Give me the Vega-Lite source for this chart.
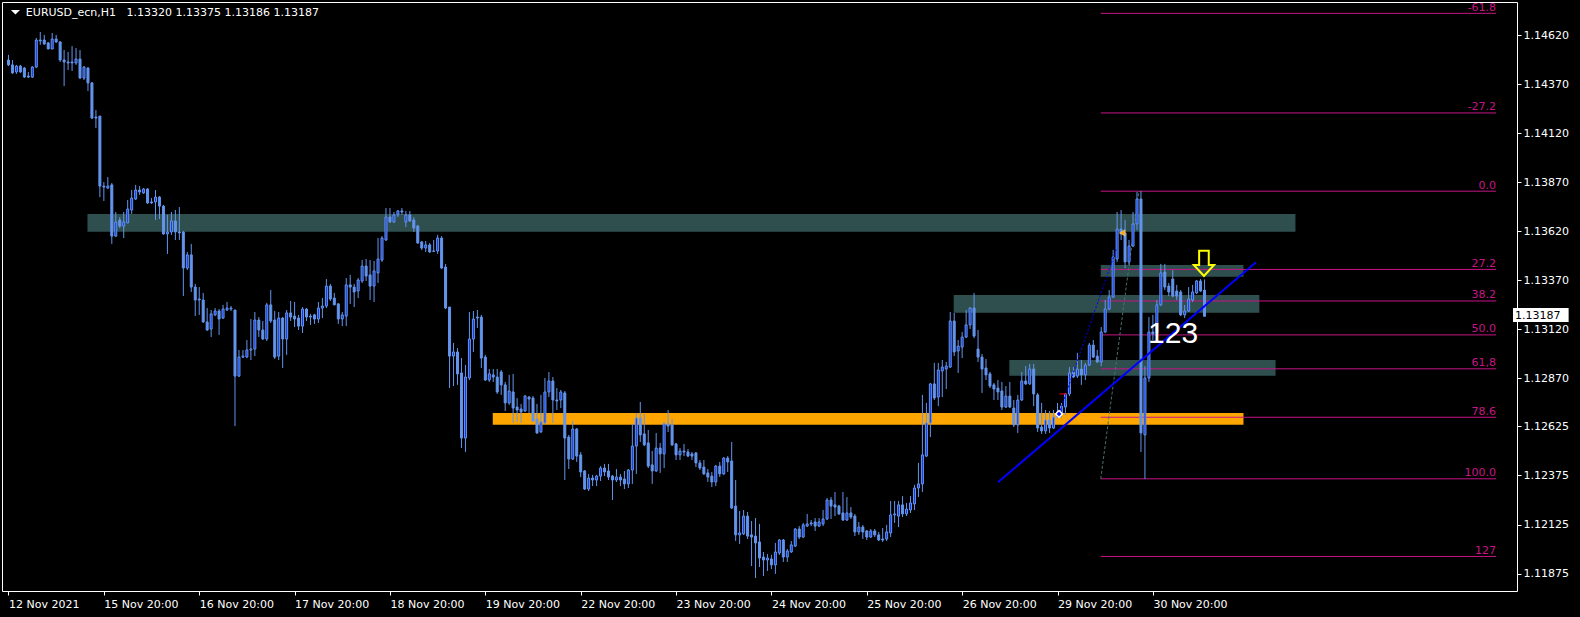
{
"$schema":"https://vega.github.io/schema/vega-lite/v6.json",
"width":1515,"height":589,
"autosize":{"type":"none"},
"padding":{"left":2,"top":2,"right":63,"bottom":26},
"background":"#000000",
"config":{"view":{"stroke":"#ffffff","strokeWidth":1,"fill":"#000000"},"axis":{"grid":false}},
"datasets":{
"candles":[
{"i":0,"o":1.14494,"h":1.1452,"l":1.14463,"c":1.14469},
{"i":1,"o":1.14469,"h":1.14494,"l":1.14423,"c":1.14428},
{"i":2,"o":1.14433,"h":1.14469,"l":1.14423,"c":1.14463},
{"i":3,"o":1.14463,"h":1.14469,"l":1.14428,"c":1.14433},
{"i":4,"o":1.14453,"h":1.14458,"l":1.14402,"c":1.14407},
{"i":5,"o":1.14412,"h":1.14433,"l":1.14402,"c":1.14407},
{"i":6,"o":1.14407,"h":1.14463,"l":1.14402,"c":1.14458},
{"i":7,"o":1.14458,"h":1.14606,"l":1.14453,"c":1.14596},
{"i":8,"o":1.14596,"h":1.14637,"l":1.14571,"c":1.14591},
{"i":9,"o":1.14596,"h":1.14622,"l":1.14571,"c":1.14576},
{"i":10,"o":1.14581,"h":1.14586,"l":1.1455,"c":1.1455},
{"i":11,"o":1.1455,"h":1.14632,"l":1.1455,"c":1.14601},
{"i":12,"o":1.14601,"h":1.14622,"l":1.14581,"c":1.14586},
{"i":13,"o":1.14586,"h":1.14591,"l":1.14484,"c":1.14494},
{"i":14,"o":1.14494,"h":1.14545,"l":1.14361,"c":1.14484},
{"i":15,"o":1.14484,"h":1.14535,"l":1.14443,"c":1.14479},
{"i":16,"o":1.14484,"h":1.14565,"l":1.14438,"c":1.14479},
{"i":17,"o":1.14479,"h":1.14555,"l":1.14469,"c":1.14499},
{"i":18,"o":1.14499,"h":1.14545,"l":1.14397,"c":1.14402},
{"i":19,"o":1.14402,"h":1.14463,"l":1.14392,"c":1.14458},
{"i":20,"o":1.14453,"h":1.14458,"l":1.14336,"c":1.14377},
{"i":21,"o":1.14377,"h":1.14382,"l":1.14193,"c":1.14198},
{"i":22,"o":1.14203,"h":1.14239,"l":1.14147,"c":1.14198},
{"i":23,"o":1.14208,"h":1.14208,"l":1.13795,"c":1.13851},
{"i":24,"o":1.13851,"h":1.13872,"l":1.13775,"c":1.13846},
{"i":25,"o":1.13841,"h":1.13897,"l":1.13836,"c":1.13851},
{"i":26,"o":1.13857,"h":1.13867,"l":1.13556,"c":1.13596},
{"i":27,"o":1.13596,"h":1.13719,"l":1.13591,"c":1.13668},
{"i":28,"o":1.13678,"h":1.13693,"l":1.13637,"c":1.13647},
{"i":29,"o":1.13647,"h":1.13719,"l":1.13586,"c":1.13668},
{"i":30,"o":1.13663,"h":1.1378,"l":1.13663,"c":1.13734},
{"i":31,"o":1.13729,"h":1.13831,"l":1.13709,"c":1.1379},
{"i":32,"o":1.13785,"h":1.13857,"l":1.1378,"c":1.13831},
{"i":33,"o":1.13831,"h":1.13851,"l":1.13806,"c":1.13821},
{"i":34,"o":1.13816,"h":1.13841,"l":1.13811,"c":1.13836},
{"i":35,"o":1.13836,"h":1.13841,"l":1.1376,"c":1.13765},
{"i":36,"o":1.1377,"h":1.1379,"l":1.1376,"c":1.13765},
{"i":37,"o":1.1377,"h":1.13831,"l":1.13678,"c":1.13795},
{"i":38,"o":1.13795,"h":1.138,"l":1.13683,"c":1.13749},
{"i":39,"o":1.13749,"h":1.13755,"l":1.13602,"c":1.13607},
{"i":40,"o":1.13607,"h":1.13704,"l":1.13505,"c":1.13617},
{"i":41,"o":1.13617,"h":1.13719,"l":1.13602,"c":1.13673},
{"i":42,"o":1.13673,"h":1.13729,"l":1.13576,"c":1.13617},
{"i":43,"o":1.13617,"h":1.13744,"l":1.13576,"c":1.13612},
{"i":44,"o":1.13617,"h":1.13622,"l":1.1329,"c":1.13433},
{"i":45,"o":1.13433,"h":1.13515,"l":1.13423,"c":1.135},
{"i":46,"o":1.135,"h":1.13556,"l":1.13311,"c":1.13336},
{"i":47,"o":1.13336,"h":1.13352,"l":1.13188,"c":1.1327},
{"i":48,"o":1.13275,"h":1.13336,"l":1.13194,"c":1.1327},
{"i":49,"o":1.1327,"h":1.13306,"l":1.13153,"c":1.13158},
{"i":50,"o":1.13158,"h":1.13229,"l":1.13112,"c":1.13117},
{"i":51,"o":1.13122,"h":1.13219,"l":1.13081,"c":1.13199},
{"i":52,"o":1.13194,"h":1.13229,"l":1.13188,"c":1.13214},
{"i":53,"o":1.13214,"h":1.13224,"l":1.13092,"c":1.13173},
{"i":54,"o":1.13178,"h":1.13245,"l":1.13173,"c":1.13224},
{"i":55,"o":1.13219,"h":1.1326,"l":1.13214,"c":1.13229},
{"i":56,"o":1.13224,"h":1.13239,"l":1.13214,"c":1.13229},
{"i":57,"o":1.13219,"h":1.13219,"l":1.12627,"c":1.12882},
{"i":58,"o":1.12882,"h":1.13015,"l":1.12877,"c":1.12979},
{"i":59,"o":1.12979,"h":1.13015,"l":1.12974,"c":1.12984},
{"i":60,"o":1.12979,"h":1.13066,"l":1.12974,"c":1.13015},
{"i":61,"o":1.13015,"h":1.13173,"l":1.12964,"c":1.1302},
{"i":62,"o":1.1302,"h":1.13209,"l":1.12984,"c":1.13168},
{"i":63,"o":1.13168,"h":1.13183,"l":1.13081,"c":1.13117},
{"i":64,"o":1.13117,"h":1.13163,"l":1.13066,"c":1.13071},
{"i":65,"o":1.13071,"h":1.13255,"l":1.13061,"c":1.13245},
{"i":66,"o":1.13245,"h":1.13321,"l":1.13153,"c":1.13163},
{"i":67,"o":1.13168,"h":1.13214,"l":1.12969,"c":1.12979},
{"i":68,"o":1.12984,"h":1.13209,"l":1.12964,"c":1.13178},
{"i":69,"o":1.13178,"h":1.13183,"l":1.12923,"c":1.13071},
{"i":70,"o":1.13071,"h":1.13219,"l":1.1299,"c":1.13204},
{"i":71,"o":1.13204,"h":1.13265,"l":1.13163,"c":1.13183},
{"i":72,"o":1.13188,"h":1.1326,"l":1.13132,"c":1.13173},
{"i":73,"o":1.13178,"h":1.13194,"l":1.13117,"c":1.13137},
{"i":74,"o":1.13137,"h":1.13234,"l":1.13102,"c":1.13224},
{"i":75,"o":1.13224,"h":1.13229,"l":1.13163,"c":1.13183},
{"i":76,"o":1.13188,"h":1.13199,"l":1.13143,"c":1.13183},
{"i":77,"o":1.13194,"h":1.13199,"l":1.13148,"c":1.13173},
{"i":78,"o":1.13173,"h":1.1326,"l":1.13153,"c":1.13229},
{"i":79,"o":1.13229,"h":1.1328,"l":1.13178,"c":1.13239},
{"i":80,"o":1.13239,"h":1.13377,"l":1.13229,"c":1.13341},
{"i":81,"o":1.13341,"h":1.13352,"l":1.13265,"c":1.13275},
{"i":82,"o":1.1328,"h":1.13306,"l":1.13245,"c":1.13245},
{"i":83,"o":1.1325,"h":1.13255,"l":1.13148,"c":1.13173},
{"i":84,"o":1.13173,"h":1.13209,"l":1.13137,"c":1.13194},
{"i":85,"o":1.13188,"h":1.13382,"l":1.13137,"c":1.13347},
{"i":86,"o":1.13347,"h":1.13398,"l":1.1325,"c":1.13336},
{"i":87,"o":1.13336,"h":1.13352,"l":1.13234,"c":1.13311},
{"i":88,"o":1.13316,"h":1.13382,"l":1.1328,"c":1.13372},
{"i":89,"o":1.13367,"h":1.13474,"l":1.13357,"c":1.13443},
{"i":90,"o":1.13443,"h":1.13479,"l":1.13367,"c":1.13392},
{"i":91,"o":1.13398,"h":1.13474,"l":1.1327,"c":1.13341},
{"i":92,"o":1.13341,"h":1.13469,"l":1.1326,"c":1.13418},
{"i":93,"o":1.13408,"h":1.13586,"l":1.13357,"c":1.13479},
{"i":94,"o":1.13474,"h":1.13596,"l":1.13464,"c":1.13586},
{"i":95,"o":1.13576,"h":1.13739,"l":1.13571,"c":1.13693},
{"i":96,"o":1.13693,"h":1.13739,"l":1.13663,"c":1.13668},
{"i":97,"o":1.13668,"h":1.13719,"l":1.13663,"c":1.13704},
{"i":98,"o":1.13704,"h":1.13729,"l":1.13693,"c":1.13724},
{"i":99,"o":1.13724,"h":1.13739,"l":1.13704,"c":1.13719},
{"i":100,"o":1.13668,"h":1.13724,"l":1.13642,"c":1.13704},
{"i":101,"o":1.13704,"h":1.13724,"l":1.13668,"c":1.13673},
{"i":102,"o":1.13678,"h":1.13693,"l":1.13617,"c":1.13637},
{"i":103,"o":1.13647,"h":1.13653,"l":1.13556,"c":1.13561},
{"i":104,"o":1.13566,"h":1.13571,"l":1.13525,"c":1.13535},
{"i":105,"o":1.13535,"h":1.13571,"l":1.13515,"c":1.13551},
{"i":106,"o":1.13551,"h":1.13561,"l":1.1351,"c":1.13515},
{"i":107,"o":1.1352,"h":1.13576,"l":1.13515,"c":1.13518},
{"i":108,"o":1.1352,"h":1.13602,"l":1.13505,"c":1.13586},
{"i":109,"o":1.13586,"h":1.13596,"l":1.13428,"c":1.13433},
{"i":110,"o":1.13438,"h":1.13454,"l":1.13224,"c":1.13229},
{"i":111,"o":1.13234,"h":1.13234,"l":1.12821,"c":1.12984},
{"i":112,"o":1.12984,"h":1.13051,"l":1.12831,"c":1.13005},
{"i":113,"o":1.13005,"h":1.13025,"l":1.12837,"c":1.12893},
{"i":114,"o":1.12898,"h":1.12974,"l":1.12515,"c":1.12566},
{"i":115,"o":1.12566,"h":1.12939,"l":1.12495,"c":1.12877},
{"i":116,"o":1.12872,"h":1.13209,"l":1.12862,"c":1.13071},
{"i":117,"o":1.13071,"h":1.13214,"l":1.13005,"c":1.13173},
{"i":118,"o":1.13183,"h":1.13219,"l":1.13127,"c":1.13178},
{"i":119,"o":1.13183,"h":1.13194,"l":1.12923,"c":1.12974},
{"i":120,"o":1.12979,"h":1.1299,"l":1.12857,"c":1.12862},
{"i":121,"o":1.12862,"h":1.12918,"l":1.12852,"c":1.12893},
{"i":122,"o":1.12888,"h":1.12918,"l":1.12852,"c":1.12877},
{"i":123,"o":1.12877,"h":1.12918,"l":1.12791,"c":1.12801},
{"i":124,"o":1.12903,"h":1.12913,"l":1.12786,"c":1.12837},
{"i":125,"o":1.12837,"h":1.12852,"l":1.12704,"c":1.12745},
{"i":126,"o":1.12745,"h":1.12888,"l":1.12735,"c":1.12806},
{"i":127,"o":1.12801,"h":1.12893,"l":1.12643,"c":1.12719},
{"i":128,"o":1.12724,"h":1.1277,"l":1.12648,"c":1.12709},
{"i":129,"o":1.12714,"h":1.1274,"l":1.12643,"c":1.12699},
{"i":130,"o":1.12704,"h":1.12786,"l":1.12699,"c":1.1278},
{"i":131,"o":1.12775,"h":1.1278,"l":1.12694,"c":1.12765},
{"i":132,"o":1.1277,"h":1.1278,"l":1.12648,"c":1.12653},
{"i":133,"o":1.12663,"h":1.1274,"l":1.12587,"c":1.12592},
{"i":134,"o":1.12597,"h":1.12786,"l":1.12592,"c":1.12648},
{"i":135,"o":1.12643,"h":1.12872,"l":1.12638,"c":1.12801},
{"i":136,"o":1.12801,"h":1.12903,"l":1.12775,"c":1.12857},
{"i":137,"o":1.12857,"h":1.12877,"l":1.12643,"c":1.1276},
{"i":138,"o":1.1276,"h":1.12821,"l":1.12709,"c":1.12755},
{"i":139,"o":1.1276,"h":1.12811,"l":1.12719,"c":1.12801},
{"i":140,"o":1.12796,"h":1.12806,"l":1.12352,"c":1.12566},
{"i":141,"o":1.12571,"h":1.12582,"l":1.12408,"c":1.12459},
{"i":142,"o":1.12459,"h":1.12653,"l":1.12454,"c":1.12612},
{"i":143,"o":1.12612,"h":1.12617,"l":1.12444,"c":1.12474},
{"i":144,"o":1.1248,"h":1.12495,"l":1.12367,"c":1.12393},
{"i":145,"o":1.12398,"h":1.12403,"l":1.12301,"c":1.12306},
{"i":146,"o":1.12306,"h":1.12383,"l":1.12296,"c":1.12362},
{"i":147,"o":1.12362,"h":1.12378,"l":1.12321,"c":1.12352},
{"i":148,"o":1.12352,"h":1.12378,"l":1.12321,"c":1.12372},
{"i":149,"o":1.12372,"h":1.12423,"l":1.12347,"c":1.12413},
{"i":150,"o":1.12413,"h":1.12434,"l":1.12372,"c":1.12393},
{"i":151,"o":1.12398,"h":1.12434,"l":1.12352,"c":1.12367},
{"i":152,"o":1.12372,"h":1.12378,"l":1.1225,"c":1.12352},
{"i":153,"o":1.12352,"h":1.12408,"l":1.12342,"c":1.12367},
{"i":154,"o":1.12367,"h":1.12383,"l":1.12321,"c":1.12352},
{"i":155,"o":1.12357,"h":1.12398,"l":1.12306,"c":1.12332},
{"i":156,"o":1.12332,"h":1.12408,"l":1.12311,"c":1.12403},
{"i":157,"o":1.12403,"h":1.12638,"l":1.12332,"c":1.12525},
{"i":158,"o":1.12525,"h":1.12694,"l":1.12383,"c":1.12668},
{"i":159,"o":1.12668,"h":1.1275,"l":1.12546,"c":1.12582},
{"i":160,"o":1.12587,"h":1.12689,"l":1.12525,"c":1.12531},
{"i":161,"o":1.12541,"h":1.12607,"l":1.12413,"c":1.12423},
{"i":162,"o":1.12429,"h":1.125,"l":1.12332,"c":1.12398},
{"i":163,"o":1.12398,"h":1.12592,"l":1.12393,"c":1.12515},
{"i":164,"o":1.12515,"h":1.12541,"l":1.12388,"c":1.12485},
{"i":165,"o":1.12485,"h":1.12648,"l":1.12413,"c":1.12638},
{"i":166,"o":1.12638,"h":1.12709,"l":1.12597,"c":1.12627},
{"i":167,"o":1.12633,"h":1.12663,"l":1.12525,"c":1.12531},
{"i":168,"o":1.12536,"h":1.12541,"l":1.12454,"c":1.1248},
{"i":169,"o":1.1248,"h":1.12515,"l":1.12454,"c":1.125},
{"i":170,"o":1.125,"h":1.12536,"l":1.12474,"c":1.12495},
{"i":171,"o":1.12495,"h":1.1251,"l":1.12469,"c":1.12474},
{"i":172,"o":1.12485,"h":1.12495,"l":1.12454,"c":1.12474},
{"i":173,"o":1.1249,"h":1.12495,"l":1.12418,"c":1.12439},
{"i":174,"o":1.12439,"h":1.12454,"l":1.12403,"c":1.12413},
{"i":175,"o":1.12418,"h":1.12454,"l":1.12378,"c":1.12383},
{"i":176,"o":1.12388,"h":1.12408,"l":1.12342,"c":1.12367},
{"i":177,"o":1.12372,"h":1.12393,"l":1.12316,"c":1.12342},
{"i":178,"o":1.12342,"h":1.12429,"l":1.12321,"c":1.12423},
{"i":179,"o":1.12423,"h":1.12444,"l":1.12367,"c":1.12383},
{"i":180,"o":1.12383,"h":1.12469,"l":1.12378,"c":1.12464},
{"i":181,"o":1.12464,"h":1.12474,"l":1.12393,"c":1.12444},
{"i":182,"o":1.12449,"h":1.12546,"l":1.12204,"c":1.12209},
{"i":183,"o":1.12219,"h":1.12352,"l":1.12041,"c":1.12072},
{"i":184,"o":1.12072,"h":1.12194,"l":1.12026,"c":1.12082},
{"i":185,"o":1.12077,"h":1.12199,"l":1.12072,"c":1.12168},
{"i":186,"o":1.12168,"h":1.12189,"l":1.12051,"c":1.12066},
{"i":187,"o":1.12072,"h":1.12143,"l":1.11913,"c":1.12061},
{"i":188,"o":1.12066,"h":1.12158,"l":1.11852,"c":1.12031},
{"i":189,"o":1.12036,"h":1.12128,"l":1.11908,"c":1.11954},
{"i":190,"o":1.11959,"h":1.11985,"l":1.11862,"c":1.11944},
{"i":191,"o":1.11944,"h":1.11975,"l":1.11888,"c":1.11954},
{"i":192,"o":1.11949,"h":1.1197,"l":1.11898,"c":1.11919},
{"i":193,"o":1.11919,"h":1.12031,"l":1.11873,"c":1.11985},
{"i":194,"o":1.1198,"h":1.12051,"l":1.1197,"c":1.12046},
{"i":195,"o":1.12046,"h":1.12051,"l":1.11934,"c":1.11959},
{"i":196,"o":1.11959,"h":1.12,"l":1.11934,"c":1.1199},
{"i":197,"o":1.11985,"h":1.12041,"l":1.1198,"c":1.12021},
{"i":198,"o":1.12015,"h":1.12107,"l":1.1201,"c":1.12102},
{"i":199,"o":1.12102,"h":1.12117,"l":1.12051,"c":1.12061},
{"i":200,"o":1.12061,"h":1.12133,"l":1.12056,"c":1.12123},
{"i":201,"o":1.12117,"h":1.12179,"l":1.12112,"c":1.12128},
{"i":202,"o":1.12133,"h":1.12148,"l":1.12117,"c":1.12128},
{"i":203,"o":1.12138,"h":1.12158,"l":1.12092,"c":1.12117},
{"i":204,"o":1.12117,"h":1.12158,"l":1.12112,"c":1.12138},
{"i":205,"o":1.12128,"h":1.12199,"l":1.12117,"c":1.12153},
{"i":206,"o":1.12153,"h":1.1226,"l":1.12148,"c":1.1225},
{"i":207,"o":1.1225,"h":1.12265,"l":1.12153,"c":1.12219},
{"i":208,"o":1.12225,"h":1.12291,"l":1.12168,"c":1.12214},
{"i":209,"o":1.12219,"h":1.12225,"l":1.12174,"c":1.12179},
{"i":210,"o":1.12184,"h":1.12291,"l":1.12143,"c":1.12148},
{"i":211,"o":1.12148,"h":1.12265,"l":1.12143,"c":1.12184},
{"i":212,"o":1.12184,"h":1.12214,"l":1.12153,"c":1.12163},
{"i":213,"o":1.12168,"h":1.12179,"l":1.12066,"c":1.12087},
{"i":214,"o":1.12087,"h":1.12138,"l":1.12072,"c":1.12112},
{"i":215,"o":1.12112,"h":1.12123,"l":1.12051,"c":1.12087},
{"i":216,"o":1.12092,"h":1.12097,"l":1.12046,"c":1.12061},
{"i":217,"o":1.12061,"h":1.12102,"l":1.12056,"c":1.12092},
{"i":218,"o":1.12092,"h":1.12102,"l":1.12061,"c":1.12072},
{"i":219,"o":1.12072,"h":1.12087,"l":1.12041,"c":1.12046},
{"i":220,"o":1.12051,"h":1.12107,"l":1.12036,"c":1.12046},
{"i":221,"o":1.12051,"h":1.12123,"l":1.12041,"c":1.12087},
{"i":222,"o":1.12082,"h":1.12245,"l":1.12061,"c":1.12174},
{"i":223,"o":1.12174,"h":1.12245,"l":1.12133,"c":1.12179},
{"i":224,"o":1.12168,"h":1.12245,"l":1.12112,"c":1.12225},
{"i":225,"o":1.12225,"h":1.1227,"l":1.12163,"c":1.12179},
{"i":226,"o":1.12179,"h":1.12235,"l":1.12168,"c":1.12204},
{"i":227,"o":1.12199,"h":1.1227,"l":1.12184,"c":1.12235},
{"i":228,"o":1.1223,"h":1.12327,"l":1.12199,"c":1.12311},
{"i":229,"o":1.12311,"h":1.12439,"l":1.12265,"c":1.12332},
{"i":230,"o":1.12332,"h":1.12786,"l":1.12291,"c":1.1248},
{"i":231,"o":1.12474,"h":1.12745,"l":1.12469,"c":1.12643},
{"i":232,"o":1.12643,"h":1.12847,"l":1.12571,"c":1.12842},
{"i":233,"o":1.12842,"h":1.12949,"l":1.1276,"c":1.1277},
{"i":234,"o":1.12775,"h":1.12949,"l":1.12729,"c":1.12913},
{"i":235,"o":1.12908,"h":1.12964,"l":1.12775,"c":1.12928},
{"i":236,"o":1.12918,"h":1.12954,"l":1.12816,"c":1.12933},
{"i":237,"o":1.12928,"h":1.13209,"l":1.12923,"c":1.13163},
{"i":238,"o":1.13163,"h":1.13204,"l":1.12984,"c":1.13005},
{"i":239,"o":1.1301,"h":1.13066,"l":1.12898,"c":1.13035},
{"i":240,"o":1.1303,"h":1.13107,"l":1.12974,"c":1.13081},
{"i":241,"o":1.13081,"h":1.13219,"l":1.13076,"c":1.13143},
{"i":242,"o":1.13143,"h":1.13234,"l":1.13122,"c":1.13229},
{"i":243,"o":1.13229,"h":1.13306,"l":1.13076,"c":1.13086},
{"i":244,"o":1.1302,"h":1.13117,"l":1.12954,"c":1.12979},
{"i":245,"o":1.12979,"h":1.12995,"l":1.12796,"c":1.12918},
{"i":246,"o":1.12923,"h":1.12969,"l":1.12862,"c":1.12888},
{"i":247,"o":1.12893,"h":1.12903,"l":1.12821,"c":1.12831},
{"i":248,"o":1.12837,"h":1.12847,"l":1.1276,"c":1.12816},
{"i":249,"o":1.12821,"h":1.12862,"l":1.1276,"c":1.12801},
{"i":250,"o":1.12806,"h":1.12852,"l":1.12709,"c":1.12724},
{"i":251,"o":1.12724,"h":1.12831,"l":1.12719,"c":1.1278},
{"i":252,"o":1.1278,"h":1.12852,"l":1.12719,"c":1.12724},
{"i":253,"o":1.12719,"h":1.1276,"l":1.12622,"c":1.12633},
{"i":254,"o":1.12633,"h":1.12786,"l":1.12592,"c":1.1276},
{"i":255,"o":1.1276,"h":1.12903,"l":1.12755,"c":1.12857},
{"i":256,"o":1.12857,"h":1.12933,"l":1.12837,"c":1.12842},
{"i":257,"o":1.12842,"h":1.12944,"l":1.12837,"c":1.12918},
{"i":258,"o":1.12918,"h":1.12944,"l":1.12729,"c":1.12791},
{"i":259,"o":1.12786,"h":1.12796,"l":1.12597,"c":1.12617},
{"i":260,"o":1.12622,"h":1.12745,"l":1.12587,"c":1.12602},
{"i":261,"o":1.12602,"h":1.12709,"l":1.12587,"c":1.12658},
{"i":262,"o":1.12658,"h":1.12704,"l":1.12592,"c":1.12617},
{"i":263,"o":1.12617,"h":1.12709,"l":1.12612,"c":1.12673},
{"i":264,"o":1.12673,"h":1.12745,"l":1.12668,"c":1.12699},
{"i":265,"o":1.12694,"h":1.12745,"l":1.12668,"c":1.12729},
{"i":266,"o":1.12724,"h":1.12796,"l":1.12683,"c":1.12791},
{"i":267,"o":1.12791,"h":1.12928,"l":1.1278,"c":1.12898},
{"i":268,"o":1.12903,"h":1.12928,"l":1.12872,"c":1.12877},
{"i":269,"o":1.12882,"h":1.13,"l":1.12872,"c":1.12918},
{"i":270,"o":1.12918,"h":1.12964,"l":1.12837,"c":1.12888},
{"i":271,"o":1.12888,"h":1.12949,"l":1.12862,"c":1.12938},
{"i":272,"o":1.12938,"h":1.13051,"l":1.12933,"c":1.1304},
{"i":273,"o":1.1304,"h":1.13066,"l":1.12974,"c":1.12979},
{"i":274,"o":1.12984,"h":1.13015,"l":1.12949,"c":1.12954},
{"i":275,"o":1.12954,"h":1.13132,"l":1.12933,"c":1.13107},
{"i":276,"o":1.13107,"h":1.1327,"l":1.13102,"c":1.13224},
{"i":277,"o":1.13224,"h":1.13321,"l":1.13219,"c":1.13285},
{"i":278,"o":1.13285,"h":1.13525,"l":1.1328,"c":1.13489},
{"i":279,"o":1.13479,"h":1.13719,"l":1.13464,"c":1.13632},
{"i":280,"o":1.13632,"h":1.13729,"l":1.13576,"c":1.13607},
{"i":281,"o":1.13612,"h":1.13678,"l":1.13433,"c":1.13464},
{"i":282,"o":1.13464,"h":1.13576,"l":1.13449,"c":1.13545},
{"i":283,"o":1.13545,"h":1.13719,"l":1.1354,"c":1.13658},
{"i":284,"o":1.13658,"h":1.13821,"l":1.13627,"c":1.13785},
{"i":285,"o":1.13785,"h":1.13826,"l":1.12495,"c":1.12592},
{"i":286,"o":1.12582,"h":1.12933,"l":1.12357,"c":1.12872},
{"i":287,"o":1.12872,"h":1.13183,"l":1.12852,"c":1.13107},
{"i":288,"o":1.13107,"h":1.13194,"l":1.13066,"c":1.13097},
{"i":289,"o":1.13102,"h":1.1327,"l":1.13086,"c":1.13245},
{"i":290,"o":1.13245,"h":1.13454,"l":1.13239,"c":1.13408},
{"i":291,"o":1.13413,"h":1.13454,"l":1.13321,"c":1.13336},
{"i":292,"o":1.13341,"h":1.13357,"l":1.1329,"c":1.13311},
{"i":293,"o":1.13377,"h":1.13423,"l":1.13285,"c":1.1329},
{"i":294,"o":1.13316,"h":1.13347,"l":1.1327,"c":1.1329},
{"i":295,"o":1.13311,"h":1.13321,"l":1.13188,"c":1.13194},
{"i":296,"o":1.13194,"h":1.13245,"l":1.13178,"c":1.13214},
{"i":297,"o":1.13214,"h":1.13336,"l":1.13209,"c":1.13275},
{"i":298,"o":1.1327,"h":1.13347,"l":1.1326,"c":1.13311},
{"i":299,"o":1.13306,"h":1.13372,"l":1.13301,"c":1.13367},
{"i":300,"o":1.13367,"h":1.13377,"l":1.13311,"c":1.13316},
{"i":301,"o":1.1332,"h":1.13375,"l":1.13186,"c":1.13187}
],
"zones":[
{"i1":19.875,"i2":323.875,"p1":1.13709,"p2":1.13618,"kind":"zone"},
{"i1":121.875,"i2":310.8,"p1":1.12694,"p2":1.12634,"kind":"support"},
{"i1":237.875,"i2":314.8,"p1":1.13296,"p2":1.13205,"kind":"zone"},
{"i1":251.875,"i2":318.875,"p1":1.12964,"p2":1.12884,"kind":"zone"},
{"i1":274.875,"i2":310.8,"p1":1.13449,"p2":1.13389,"kind":"zone"}
],
"fib":[
{"lv":"-61.8","p":1.14732},
{"lv":"-27.2","p":1.14224},
{"lv":"0.0","p":1.13825},
{"lv":"27.2","p":1.13426},
{"lv":"38.2","p":1.13265},
{"lv":"50.0","p":1.13092},
{"lv":"61,8","p":1.12919},
{"lv":"78.6","p":1.12672},
{"lv":"100.0","p":1.12358},
{"lv":"127","p":1.11962}
],
"fibdiag":[{"i":274.875,"p":1.12358},{"i":284.5,"p":1.13826}],
"trend":[{"i":249.0,"p":1.1234},{"i":313.95,"p":1.13462}],
"zig":[{"i":264.375,"p":1.12689},{"i":278.875,"p":1.13535}],
"one":[{"k":1}]
},
"layer":[
{"data":{"name":"zones"},
 "mark":{"type":"rect"},
 "encoding":{
  "x":{"field":"i1","type":"quantitative","scale":{"domain":[-0.375,378.375],"nice":false,"zero":false},
   "axis":{"values":[0,24,48,72,96,120,144,168,192,216,240,264,288],
    "labelExpr":"['12 Nov 2021','15 Nov 20:00','16 Nov 20:00','17 Nov 20:00','18 Nov 20:00','19 Nov 20:00','22 Nov 20:00','23 Nov 20:00','24 Nov 20:00','25 Nov 20:00','26 Nov 20:00','29 Nov 20:00','30 Nov 20:00'][round(datum.value/24)]",
    "labelAlign":"left","labelDx":-2,"labelColor":"#ffffff","labelFont":"DejaVu Sans","labelFontSize":11,
    "tickColor":"#ffffff","tickSize":4,"domain":false,"grid":false,"labelPadding":3,"labelFlush":false,
    "labelOverlap":false,"labelBound":false,"title":null,"labelBaseline":"top"}},
  "x2":{"field":"i2"},
  "y":{"field":"p1","type":"quantitative","scale":{"domain":[1.117859,1.147898],"nice":false,"zero":false},
   "axis":{"orient":"right","values":[1.1462,1.1437,1.1412,1.1387,1.1362,1.1337,1.1312,1.1287,1.12625,1.12375,1.12125,1.11875],
    "format":".5f","labelColor":"#ffffff","labelFont":"DejaVu Sans","labelFontSize":11,"tickColor":"#ffffff","tickSize":4,
    "domain":false,"grid":false,"labelPadding":2,"title":null,"labelBaseline":"middle","labelOverlap":false,"labelBound":false,"labelFlush":false}},
  "y2":{"field":"p2"},
  "fill":{"field":"kind","type":"nominal","scale":{"domain":["zone","support"],"range":["#2F4F4F","#FFA500"]},"legend":null}
 }},
{"data":{"name":"fib"},
 "mark":{"type":"rule","color":"#C71585","strokeWidth":1},
 "encoding":{"x":{"datum":274.875},"x2":{"datum":374.375},"y":{"field":"p","type":"quantitative"}}},
{"data":{"name":"fib"},
 "mark":{"type":"text","color":"#C71585","align":"right","baseline":"alphabetic","dy":-2.5,"font":"DejaVu Sans","fontSize":11,"clip":true},
 "encoding":{"x":{"datum":374.375},"y":{"field":"p","type":"quantitative"},"text":{"field":"lv"}}},
{"data":{"name":"fibdiag"},
 "mark":{"type":"line","color":"#4a7070","strokeWidth":1,"strokeDash":[3,2]},
 "encoding":{"x":{"field":"i","type":"quantitative"},"y":{"field":"p","type":"quantitative"}}},
{"data":{"name":"candles"},
 "mark":{"type":"rule","color":"#6495ED","strokeWidth":1},
 "encoding":{"x":{"field":"i","type":"quantitative"},"y":{"field":"l","type":"quantitative"},"y2":{"field":"h"}}},
{"data":{"name":"candles"},
 "mark":{"type":"bar","width":2,"stroke":"#6495ED","strokeWidth":1},
 "encoding":{"x":{"field":"i","type":"quantitative"},"y":{"field":"o","type":"quantitative"},"y2":{"field":"c"},
  "fill":{"condition":{"test":"datum.c > datum.o","value":"#1438e0"},"value":"#6495ED"}}},
{"data":{"name":"trend"},
 "mark":{"type":"line","color":"#0000FF","strokeWidth":2},
 "encoding":{"x":{"field":"i","type":"quantitative"},"y":{"field":"p","type":"quantitative"}}},
{"data":{"name":"zig"},
 "mark":{"type":"line","color":"#0000FF","strokeWidth":1,"strokeDash":[2,2]},
 "encoding":{"x":{"field":"i","type":"quantitative"},"y":{"field":"p","type":"quantitative"}}},
{"data":{"name":"one"},
 "mark":{"type":"rule","color":"#FF0000","strokeWidth":1},
 "encoding":{"x":{"datum":264.5},"x2":{"datum":266.2},"y":{"datum":1.12791}}},
{"data":{"name":"one"},
 "mark":{"type":"point","shape":"diamond","filled":true,"fill":"#0000FF","stroke":"#ffffff","strokeWidth":1.5,"size":45,"opacity":1},
 "encoding":{"x":{"datum":264.375},"y":{"datum":1.12689}}},
{"data":{"name":"one"},
 "mark":{"type":"point","shape":"triangle-left","filled":true,"fill":"#FFA500","stroke":"#ffe0a0","strokeWidth":0.5,"size":40,"opacity":1},
 "encoding":{"x":{"datum":280.3},"y":{"datum":1.13612}}},
{"data":{"name":"one"},
 "mark":{"type":"point","shape":"M -0.38 -1 L 0.38 -1 L 0.38 0.13 L 0.8 0.13 L 0 1 L -0.8 0.13 L -0.38 0.13 Z","filled":false,"stroke":"#FFFF00","strokeWidth":2,"size":640,"opacity":1},
 "encoding":{"x":{"datum":300.85},"y":{"datum":1.13457}}},
{"data":{"name":"one"},
 "mark":{"type":"text","text":"123","color":"#ffffff","font":"Liberation Sans","fontSize":30,"align":"center","baseline":"alphabetic"},
 "encoding":{"x":{"datum":293.1},"y":{"datum":1.13051}}},
{"data":{"name":"one"},
 "mark":{"type":"text","text":"EURUSD_ecn,H1\u00a0\u00a0\u00a01.13320 1.13375 1.13186 1.13187","color":"#ffffff","font":"DejaVu Sans","fontSize":11,"align":"left","baseline":"alphabetic"},
 "encoding":{"x":{"datum":4.375},"y":{"datum":1.14716}}},
{"data":{"name":"one"},
 "mark":{"type":"point","shape":"M -1 -0.45 L 1 -0.45 L 0 0.55 Z","filled":true,"fill":"#ffffff","strokeWidth":0,"size":81,"opacity":1},
 "encoding":{"x":{"datum":1.75},"y":{"datum":1.14739}}},
{"data":{"name":"one"},
 "mark":{"type":"rect","fill":"#ffffff","clip":false},
 "encoding":{"x":{"datum":378.625},"x2":{"datum":392.625},"y":{"datum":1.13229},"y2":{"datum":1.13158}}},
{"data":{"name":"one"},
 "mark":{"type":"text","text":"1.13187","color":"#000000","font":"DejaVu Sans","fontSize":11,"align":"left","baseline":"middle","clip":false},
 "encoding":{"x":{"datum":379.125},"y":{"datum":1.13187}}}
]
}
